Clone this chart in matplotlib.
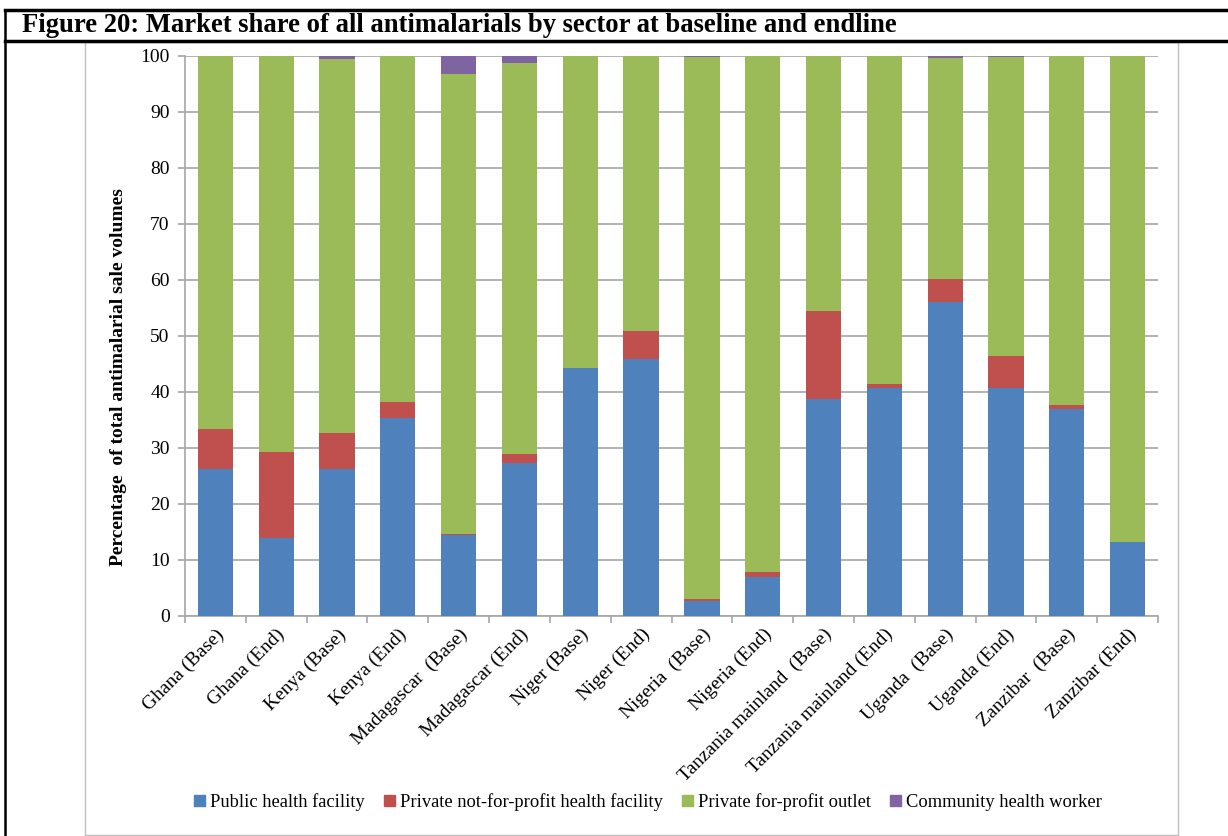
import numpy as np
import matplotlib
matplotlib.use("Agg")
import matplotlib.pyplot as plt
from matplotlib.lines import Line2D
from matplotlib.patches import Rectangle

plt.rcParams['font.family'] = ['Liberation Serif', 'DejaVu Serif']

categories = ["Ghana (Base)", "Ghana (End)", "Kenya (Base)", "Kenya (End)",
              "Madagascar  (Base)", "Madagascar (End)", "Niger (Base)", "Niger (End)",
              "Nigeria  (Base)", "Nigeria (End)", "Tanzania mainland  (Base)",
              "Tanzania mainland (End)", "Uganda  (Base)", "Uganda (End)",
              "Zanzibar  (Base)", "Zanzibar (End)"]

public = [26.2, 13.9, 26.3, 35.3, 14.5, 27.4, 44.2, 45.9,
          2.7, 7.0, 38.7, 40.8, 56.0, 40.8, 37.0, 13.3]
private_nfp = [7.2, 15.3, 6.3, 3.0, 0.1, 1.6, 0.0, 5.0,
               0.3, 0.9, 15.8, 0.6, 4.1, 5.6, 0.7, 0.0]
community = [0.0, 0.0, 0.6, 0.0, 3.15, 1.25, 0.0, 0.0,
             0.15, 0.0, 0.0, 0.0, 0.4, 0.25, 0.0, 0.0]
# for-profit outlet fills the rest of each bar
private_fp = [100 - a - b - c for a, b, c in zip(public, private_nfp, community)]

series = ["Public health facility", "Private not-for-profit health facility",
          "Private for-profit outlet", "Community health worker"]
colors = ["#4F81BD", "#C0504D", "#9BBB59", "#8064A2"]

fig = plt.figure(figsize=(12.28, 8.36), dpi=100)
ax = fig.add_axes([185 / 1228, 1 - 616 / 836, 973 / 1228, 560 / 836])

x = np.arange(len(categories))
bottom = np.zeros(len(categories))
for name, vals, col in zip(series, [public, private_nfp, private_fp, community], colors):
    ax.bar(x, vals, width=0.58, bottom=bottom, color=col, label=name, zorder=3)
    bottom += np.array(vals)

ax.set_xlim(-0.5, len(categories) - 0.5)
ax.set_ylim(0, 100)
ax.set_yticks(range(0, 101, 10))
ax.yaxis.grid(True, color="#a6a6a6", linewidth=1.2, zorder=0)
ax.set_xticks(x)
ax.set_xticklabels(categories, rotation=45, ha="right", rotation_mode="anchor", fontsize=14)
ax.set_xticks(np.arange(-0.5, len(categories)), minor=True)
ax.tick_params(axis="x", which="major", length=0, pad=7)
ax.tick_params(axis="x", which="minor", length=5, color="#a6a6a6", width=1.2)
ax.tick_params(axis="y", length=5, color="#a6a6a6", width=1.2, labelsize=14, pad=6)
for s in ["top", "right"]:
    ax.spines[s].set_visible(False)
for s in ["left", "bottom"]:
    ax.spines[s].set_color("#a6a6a6")
    ax.spines[s].set_linewidth(1.2)

ax.set_ylabel("Percentage  of total antimalarial sale volumes", fontsize=14,
              fontweight="bold")
ax.yaxis.set_label_coords((127 - 185) / 973, (616 - 377) / 560)

handles = [Rectangle((0, 0), 1, 1, color=c) for c in colors]
fig.legend(handles, series, loc="center", bbox_to_anchor=(648 / 1228, 1 - 802 / 836),
           ncol=4, frameon=False, fontsize=13.3, handlelength=0.6, handleheight=0.6,
           handletextpad=0.3, columnspacing=1.0)

# frame and title bar
fig.add_artist(Line2D([5 / 1228, 1], [1 - 10 / 836] * 2, color="black", linewidth=2.5))
fig.add_artist(Line2D([5 / 1228, 1], [1 - 41 / 836] * 2, color="black", linewidth=2.5))
fig.add_artist(Line2D([5 / 1228] * 2, [0, 1 - 10 / 836], color="black", linewidth=1.8))
fig.add_artist(Rectangle((85 / 1228, 1 / 836), 1093 / 1228, 793 / 836, fill=False,
                         edgecolor="#bfbfbf", linewidth=1.0))
fig.text(22 / 1228, 1 - 26 / 836,
         "Figure 20: Market share of all antimalarials by sector at baseline and endline",
         fontsize=19.2, fontweight="bold", va="center", ha="left")

fig.savefig("out.png", dpi=100)
